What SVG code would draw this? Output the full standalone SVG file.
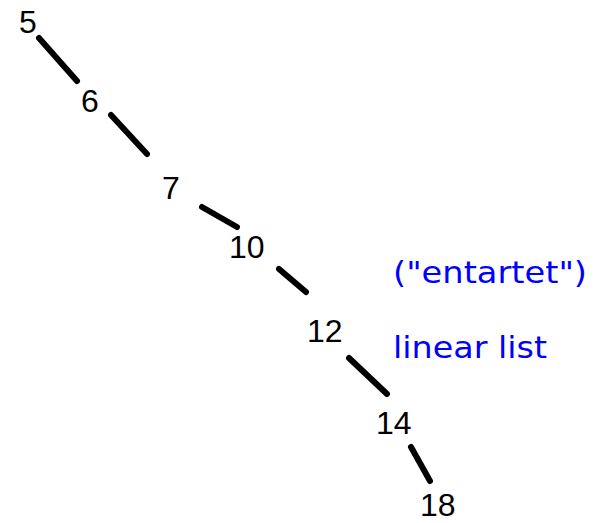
<svg xmlns="http://www.w3.org/2000/svg" width="598" height="523" viewBox="0 0 598 523">
<style>
.n{font-family:"Liberation Sans",Arial,sans-serif;font-size:32px;fill:#000}
.e{stroke:#000;stroke-width:6;stroke-linecap:round;fill:none}
.b{font-family:"Comic Sans MS","DejaVu Sans",sans-serif;font-size:31px;fill:#0000ff}
</style>
<rect width="598" height="523" fill="#fff"/>
<g id="connectors">
<line class="e" x1="39" y1="38" x2="77" y2="81"/>
<line class="e" x1="111" y1="115" x2="147" y2="154"/>
<line class="e" x1="202" y1="207" x2="237" y2="227"/>
<line class="e" x1="279" y1="269" x2="306" y2="292"/>
<line class="e" x1="349" y1="358" x2="387" y2="394"/>
<line class="e" x1="411" y1="447" x2="430" y2="481"/>
</g>
<g id="n5"><text class="n" x="19" y="33">5</text></g>
<g id="n6"><text class="n" x="81" y="112">6</text></g>
<g id="n7"><text class="n" x="162" y="199">7</text></g>
<g id="n10"><text class="n" x="229" y="258">10</text></g>
<g id="n12"><text class="n" x="307" y="342">12</text></g>
<g id="n14"><text class="n" x="376" y="434">14</text></g>
<g id="n18"><text class="n" x="420" y="516">18</text></g>
<g id="label">
<text class="b" x="393" y="283" textLength="194" lengthAdjust="spacingAndGlyphs">("entartet")</text>
<text class="b" x="393" y="358" textLength="154" lengthAdjust="spacingAndGlyphs">linear list</text>
</g>
</svg>
